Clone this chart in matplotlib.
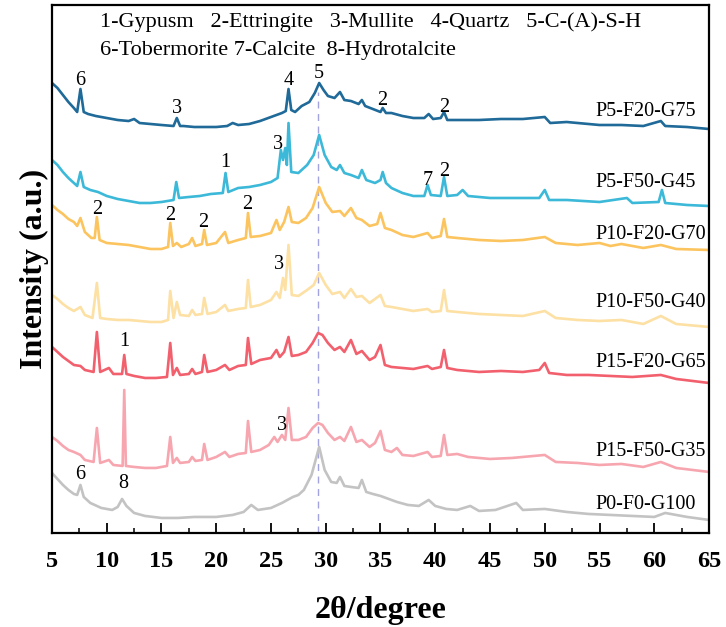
import matplotlib
matplotlib.use("Agg")
import matplotlib.pyplot as plt
import numpy as np
from matplotlib.ticker import MultipleLocator

plt.rcParams['font.family'] = ['Liberation Serif', 'DejaVu Serif']
plt.rcParams['mathtext.fontset'] = 'stix'

# ---- data: (2theta, intensity a.u.) ----
p5_f20_g75 = [(5.0,450),(5.5,445),(6.0,438),(6.5,431),(7.0,425),(7.3,421),(7.6,444),(7.9,421),(8.3,419),(9,417),
    (10,415),(11,413),(12,412),(12.5,414),(13,410),(14,409),(15,408),(16.1,407),(16.4,415),(16.7,407),(17,407),(18,406),
    (19,406),(20,406),(21,407),(21.5,410),(22,408),(23,409),(24,412),(25,416),(26,420),(26.35,422),(26.6,444),(26.85,423),
    (27.2,421),(27.8,427),(28.5,431),(29.0,440),(29.4,450),(29.8,443),(30.2,437),(30.8,435),(31.3,441),(31.7,433),
    (32.3,432),(33.0,429),(33.3,433),(33.6,427),(34.3,424),(35.0,421),(35.2,425),(35.5,420),(36,420),(37,417),(38,415),
    (39,415),(39.4,419),(39.8,414),(40.5,415),(40.8,421),(41.1,413),(42,413),(44,413),(46,414),(48,414),(50.0,416),
    (50.5,410),(52,411),(55,408),(57,408),(59,407),(60.6,412),(61,407),(63,406),(65,404)]

p5_f50_g45 = [(5.0,373),(5.5,368),(6.0,361),(6.5,355),(7.0,350),(7.3,347),(7.6,361),(7.9,346),(8.5,343),(9.2,341),
    (10,337),(11,334),(12,332),(13,330),(14,330),(15,331),(16.1,333),(16.35,351),(16.6,335),(17.5,336),(18.5,337),
    (19.5,339),(20.6,340),(20.85,360),(21.1,341),(22,345),(23,346),(24,348),(25,351),(25.6,355),(25.9,383),(26.1,373),
    (26.3,385),(26.45,368),(26.6,410),(26.85,361),(27.5,360),(28.3,368),(28.9,378),(29.4,398),(29.9,378),(30.5,366),
    (31.0,363),(31.3,368),(31.7,360),(32.3,358),(33.0,355),(33.3,363),(33.7,353),(34.5,350),(35.0,353),(35.2,361),
    (35.5,350),(36,345),(37,340),(38,337),(39.0,337),(39.3,348),(39.6,338),(40.5,337),(40.8,356),(41.1,337),(42.0,338),
    (42.5,343),(43.0,337),(45,335),(47,335),(49.5,335),(50.0,343),(50.4,333),(52,333),(55,331),(57.5,335),(58,330),
    (60.4,331),(60.7,343),(61.0,330),(63,328),(65,327)]

p10_f20_g70 = [(5.0,328),(5.5,323),(6.0,319),(6.5,314),(7.0,311),(7.3,307),(7.6,315),(8.0,301),(8.6,295),(8.9,295),
    (9.1,316),(9.35,293),(10,290),(11,289),(12,288),(13,286),(14,284),(15,284),(15.6,286),(15.8,310),(16.05,287),
    (16.4,290),(16.8,286),(17.5,289),(17.8,295),(18.1,287),(18.7,289),(18.9,303),(19.15,288),(20,290),(20.8,301),
    (21.1,290),(22,293),(22.7,295),(22.9,320),(23.15,296),(24,297),(25,300),(25.5,313),(25.8,303),(26.2,311),(26.6,326),
    (26.9,311),(27.5,310),(28.2,315),(28.8,325),(29.4,346),(30.0,330),(30.6,321),(31.3,322),(31.7,317),(32.3,325),
    (32.8,315),(33.3,313),(34.0,307),(34.7,309),(35.0,320),(35.4,305),(36,303),(37,298),(38,296),(39.3,300),(39.7,295),
    (40.5,297),(40.8,314),(41.1,296),(42,295),(44,293),(46,292),(48,293),(50.0,296),(51,290),(53,288),(55,290),(56,287),
    (57,289),(59,285),(60.6,288),(62,284),(65,283)]

p10_f50_g40 = [(5.0,238),(5.5,234),(6.0,229),(6.5,225),(7.0,222),(7.6,226),(8.0,218),(8.7,215),(9.1,250),(9.4,215),
    (10,214),(11,213),(12,213),(13,212),(14,211),(15,211),(15.6,213),(15.8,242),(16.1,215),(16.4,231),(16.7,218),
    (17.5,217),(17.8,223),(18.1,218),(18.7,219),(18.9,235),(19.2,219),(20,221),(20.8,228),(21.1,222),(22,224),
    (22.7,225),(22.9,253),(23.15,226),(24,228),(25,233),(25.5,241),(25.8,235),(26.1,255),(26.3,243),(26.6,288),
    (26.9,238),(27.5,237),(28.3,243),(28.9,248),(29.4,260),(30.0,248),(30.6,239),(31.3,241),(31.7,235),(32.3,244),
    (32.8,236),(33.3,237),(34.0,230),(35.0,238),(35.4,227),(36,226),(37,224),(38,222),(39.3,224),(39.7,221),(40.5,222),
    (40.8,243),(41.1,222),(42,221),(44,219),(46,218),(48,217),(50.0,222),(51,215),(53,213),(55,212),(57,213),(59,209),
    (60.6,217),(62,209),(65,206)]

p15_f20_g65 = [(5.0,186),(5.5,181),(6.0,176),(6.5,172),(7.0,168),(7.6,167),(8.0,163),(8.8,161),(9.1,201),(9.4,161),
    (10.2,165),(10.6,159),(11.4,159),(11.6,178),(11.8,159),(12.5,157),(13.5,155),(14.5,155),(15.5,156),(15.8,190),
    (16.05,158),(16.4,165),(16.7,158),(17.5,159),(17.8,164),(18.1,159),(18.7,161),(18.9,178),(19.2,161),(20,163),
    (20.8,168),(21.2,163),(22,167),(22.7,168),(22.9,195),(23.2,169),(24,173),(25,175),(25.5,183),(25.8,176),(26.2,181),
    (26.6,196),(26.9,177),(27.5,178),(28.2,181),(28.8,190),(29.3,200),(29.7,198),(30.2,190),(30.8,183),(31.3,186),
    (31.7,181),(32.3,193),(32.8,179),(33.3,182),(34.0,173),(34.5,176),(35.0,188),(35.4,168),(36,166),(37,165),(38,164),
    (39.3,167),(39.7,164),(40.5,166),(40.8,183),(41.1,165),(42,163),(44,161),(46,162),(48,161),(49.5,163),(50.0,170),
    (50.4,160),(52,158),(54,158),(56,157),(58,156),(60.6,158),(62,154),(65,150)]

p15_f50_g35 = [(5.0,96),(5.5,92),(6.0,87),(6.5,83),(7.0,81),(7.6,78),(8.0,73),(8.8,71),(9.1,105),(9.4,70),(10.2,73),
    (10.6,68),(11.45,67),(11.6,143),(11.75,67),(12.5,66),(13.5,65),(14.5,65),(15.5,67),(15.8,96),(16.05,70),(16.4,75),
    (16.7,70),(17.5,71),(17.8,76),(18.1,72),(18.7,73),(18.9,89),(19.2,73),(20,76),(20.8,81),(21.2,76),(22,79),(22.7,80),
    (22.9,112),(23.2,81),(24,83),(24.8,88),(25.3,96),(25.6,91),(26.0,98),(26.3,93),(26.6,125),(26.9,93),(27.5,93),
    (28.2,96),(28.8,105),(29.3,110),(29.7,108),(30.2,100),(30.8,93),(31.3,96),(31.7,92),(32.3,106),(32.8,91),(33.3,93),
    (34.0,86),(34.5,90),(35.0,102),(35.4,83),(36,81),(36.5,85),(37,78),(38,77),(39.3,81),(39.7,76),(40.5,77),(40.8,98),
    (41.1,78),(42,79),(43,76),(45,74),(47,75),(50.0,78),(51,71),(53,70),(55,68),(57,69),(59,66),(60.6,71),(62,65),(65,61)]

p0_f0_g100 = [(5.0,60),(5.5,54),(6.0,48),(6.5,43),(7.0,39),(7.3,38),(7.6,48),(7.9,36),(8.5,30),(9.5,25),(10.5,23),
    (11.0,26),(11.4,34),(11.8,27),(12.5,20),(13.5,17),(15,15),(16.5,15),(18,16),(20,16),(21.5,18),(22.5,21),(23.2,28),
    (23.8,23),(25,25),(26,30),(27,36),(27.5,38),(28,43),(28.7,58),(29.4,86),(29.9,63),(30.5,51),(31.0,50),(31.3,56),
    (31.7,47),(32.3,46),(33.0,45),(33.3,53),(33.7,41),(34.3,39),(35.0,37),(35.5,35),(36.5,31),(37.5,28),(38.5,27),
    (39.4,33),(40.0,27),(41,24),(42,23),(43.2,27),(44,22),(45.5,23),(47.4,30),(48,23),(50,24),(52,21),(54,19),(56,18),
    (58,17),(60,16),(61,20),(63,16),(65,13)]

series_names = ["P5-F20-G75", "P5-F50-G45", "P10-F20-G70", "P10-F50-G40",
                "P15-F20-G65", "P15-F50-G35", "P0-F0-G100"]
series_data = [p5_f20_g75, p5_f50_g45, p10_f20_g70, p10_f50_g40, p15_f20_g65, p15_f50_g35, p0_f0_g100]
series_colors = ["#1f6a98", "#3cb9d8", "#fcc45e", "#fde0a4", "#f2606e", "#f7a6b0", "#c3c3c3"]
label_y = [422, 350, 298, 230, 170, 81, 28]

# peak annotations: (2theta, intensity, text)
peak_labels = [(7.6,453,"6"),(16.4,425,"3"),(26.6,453,"4"),(29.4,460,"5"),(35.2,433,"2"),(40.8,426,"2"),
               (20.8,370,"1"),(25.6,388,"3"),(39.3,352,"7"),(40.8,361,"2"),
               (9.1,323,"2"),(15.8,317,"2"),(18.8,310,"2"),(22.8,328,"2"),
               (25.7,268,"3"),
               (11.6,191,"1"),
               (26.0,107,"3"),
               (7.6,58,"6"),(11.5,49,"8")]

legend_lines = ["1-Gypusm   2-Ettringite   3-Mullite   4-Quartz   5-C-(A)-S-H",
                "6-Tobermorite 7-Calcite  8-Hydrotalcite"]
dash_x = 29.3

fig = plt.figure(figsize=(7.26, 6.27), dpi=100)
ax = fig.add_axes([0.0716, 0.150, 0.9050, 0.842])

ax.plot([dash_x, dash_x], [0, 441], color="#a3a3e0", lw=1.0, ls=(0, (5, 4)), zorder=1)

for name, data, col, ly in zip(series_names, series_data, series_colors, label_y):
    arr = np.array(data, dtype=float)
    ax.plot(arr[:, 0], arr[:, 1], color=col, lw=1.9, zorder=2)
    ax.text(54.6, ly, name, fontsize=14.5, ha="left", va="center", color="black")

for x, y, t in peak_labels:
    ax.text(x, y, t, fontsize=14.5, ha="center", va="center")

ax.text(9.4, 511, legend_lines[0], fontsize=16, ha="left", va="center")
ax.text(9.4, 483, legend_lines[1], fontsize=16, ha="left", va="center")

ax.set_xlim(5, 65)
ax.set_ylim(0, 528)
ax.xaxis.set_major_locator(MultipleLocator(5))
ax.xaxis.set_minor_locator(MultipleLocator(2.5))
ax.set_yticks([])
ax.tick_params(axis="x", which="major", direction="in", length=7, width=1.3, labelsize=17.5, pad=13)
ax.tick_params(axis="x", which="minor", direction="in", length=3.5, width=1.1)
for lab in ax.get_xticklabels():
    lab.set_fontweight("bold")
for sp in ax.spines.values():
    sp.set_linewidth(1.6)

ax.set_xlabel("2θ/degree", fontsize=23, fontweight="bold", labelpad=17)
ax.set_ylabel("Intensity (a.u.)", fontsize=23, fontweight="bold", labelpad=2)

fig.savefig("out.png", dpi=100)
